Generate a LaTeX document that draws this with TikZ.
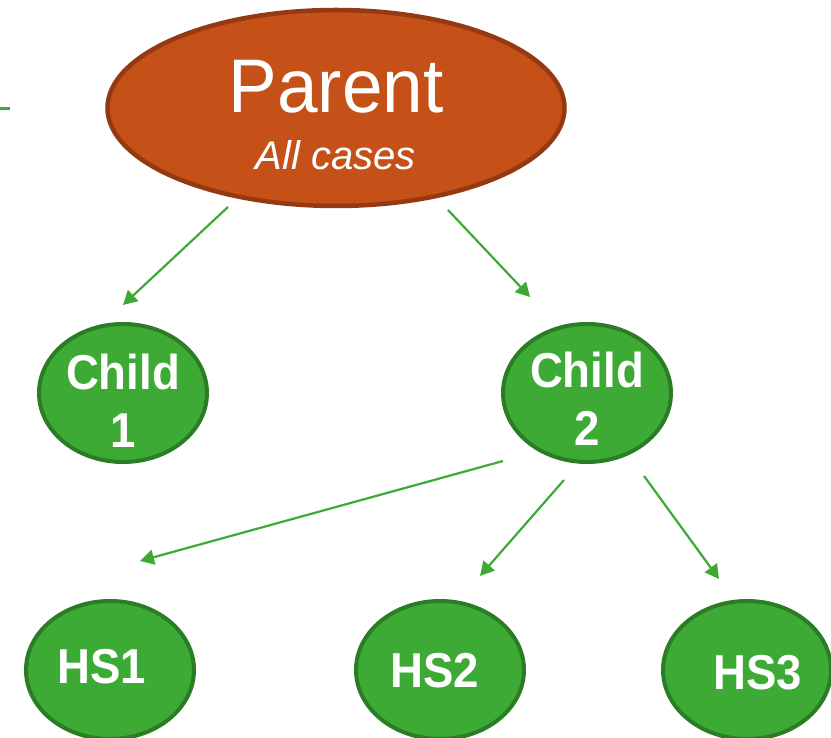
\documentclass[tikz,border=0pt]{standalone}
\usepackage{fontspec}
\setmainfont{Liberation Sans}
\usetikzlibrary{arrows.meta,shapes.geometric}
\definecolor{parentfill}{RGB}{197,81,25}
\definecolor{parentedge}{RGB}{148,58,18}
\definecolor{leaffill}{RGB}{61,170,53}
\definecolor{leafedge}{RGB}{42,125,36}
% slightly condensed text, as in the drawing
\newcommand\narrowtext[1]{\scalebox{0.93}[1]{#1}}
\begin{document}
\begin{tikzpicture}[x=1pt,y=1pt,
  parentnode/.style={ellipse, draw=parentedge, fill=parentfill, line width=4.5pt,
    minimum width=457pt, minimum height=196pt, inner sep=0pt},
  kidnode/.style={ellipse, draw=leafedge, fill=leaffill, line width=4pt,
    minimum width=168pt, minimum height=138pt, inner sep=0pt},
  txt/.style={text=white, anchor=base, inner sep=0pt},
  boldtxt/.style={txt, font=\fontsize{49}{49}\selectfont\bfseries},
  link/.style={draw=leaffill, line width=2.2pt,
    -{Triangle[length=14pt,width=15pt]}}]
\useasboundingbox (0,0) rectangle (831,738);

% root
\node[parentnode] (parent) at (336,630) {};
\node[txt, font=\fontsize{76}{76}\selectfont] (parenttitle)
  at ([yshift=-5pt]parent.center) {\scalebox{0.96}[1]{Parent}};
\node[txt, font=\fontsize{40}{40}\selectfont\itshape] (parentsub)
  at ([yshift=-62pt]parent.center) {All cases};

% children
\node[kidnode] (child1) at (123,345) {};
\node[boldtxt] (child1a) at ([yshift=3pt]child1.center) {\narrowtext{Child}};
\node[boldtxt] (child1b) at ([yshift=-55pt]child1.center) {\narrowtext{1}};

\node[kidnode] (child2) at (587,345) {};
\node[boldtxt] (child2a) at ([yshift=5pt]child2.center) {\narrowtext{Child}};
\node[boldtxt] (child2b) at ([yshift=-53pt]child2.center) {\narrowtext{2}};

% grandchildren
\node[kidnode] (hs1) at (110,68) {};
\node[boldtxt] (hs1t) at ([shift={(-8,-14)}]hs1.center) {\narrowtext{HS1}};
\node[kidnode] (hs2) at (440,68) {};
\node[boldtxt] (hs2t) at ([shift={(-5,-18)}]hs2.center) {\narrowtext{HS2}};
\node[kidnode] (hs3) at (747,68) {};
\node[boldtxt] (hs3t) at ([shift={(11,-20)}]hs3.center) {\narrowtext{HS3}};

% short stub at the left edge
\coordinate (stubL) at (0,629.5);
\coordinate (stubR) at (9.5,629.5);
\draw[draw=leaffill, line width=3pt] (stubL) -- (stubR);

% links
\draw[link] ([shift={(-108,-99)}]parent.center) -- ([shift={(0,88)}]child1.center);
\draw[link] ([shift={(112,-102)}]parent.center) -- ([shift={(-57,96)}]child2.center);
\draw[link] ([shift={(-84,-68)}]child2.center) -- ([shift={(30,109)}]hs1.center);
\draw[link] ([shift={(-23,-87)}]child2.center) -- ([shift={(40,94)}]hs2.center);
\draw[link] ([shift={(57,-83)}]child2.center) -- ([shift={(-28,91)}]hs3.center);
\end{tikzpicture}
\end{document}
